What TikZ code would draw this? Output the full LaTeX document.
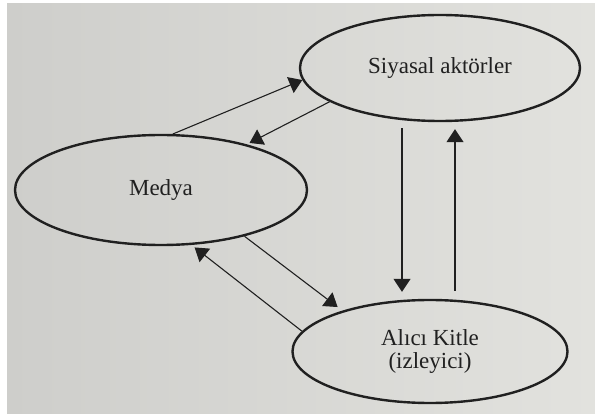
\documentclass[tikz,border=0pt]{standalone}
\usepackage{fontspec}
\setmainfont{Liberation Serif}
\usepackage{xcolor}
\usepackage{tikz}
\usetikzlibrary{positioning, arrows.meta, calc, shapes.geometric}

\definecolor{paper}{RGB}{226,226,222}
\definecolor{paperdark}{RGB}{206,206,203}
\definecolor{ink}{RGB}{32,32,32}

\begin{document}
\begin{tikzpicture}[
  x=1pt, y=-1pt,
  every node/.style={font=\fontsize{23}{23}\selectfont, text=ink},
  actor/.style={draw=ink, ellipse, line width=2.4pt, inner sep=0pt, align=center},
  arrow/.style={-{Triangle[length=13pt, width=17pt]}, line width=1.1pt, draw=ink}
]

% Page
\useasboundingbox (0,0) rectangle (595,414);
\fill[white] (0,0) rectangle (595,414);
\shade[left color=paperdark, right color=paper] (7,4) rectangle (595,414);

% Actors
\node[actor, minimum width=280pt, minimum height=106pt] (siyasal) at (440,68) {Siyasal aktörler};
\node[actor, minimum width=292pt, minimum height=110pt] (medya) at (161,190) {Medya};
\node[actor, minimum width=275pt, minimum height=103pt] (alici) at (430,351.5) {Alıcı Kitle\\(izleyici)};

% Medya <-> Siyasal aktörler
\draw[arrow] (medya.78) -- (siyasal.185);
\draw[arrow, shorten >=3pt] (siyasal.197) -- (medya.28);

% Siyasal aktörler <-> Alıcı Kitle
\draw[arrow] ($(siyasal.south)+(-38,6)$) -- ($(alici.north)+(-28,-7)$);
\draw[arrow] ($(alici.north)+(25,-8)$) -- ($(siyasal.south)+(15,7)$);

% Medya <-> Alıcı Kitle
\draw[arrow, shorten >=6pt] (medya.331) -- (alici.155.6);
\draw[arrow, shorten >=4pt] (alici.171) -- (medya.299);

\end{tikzpicture}
\end{document}
